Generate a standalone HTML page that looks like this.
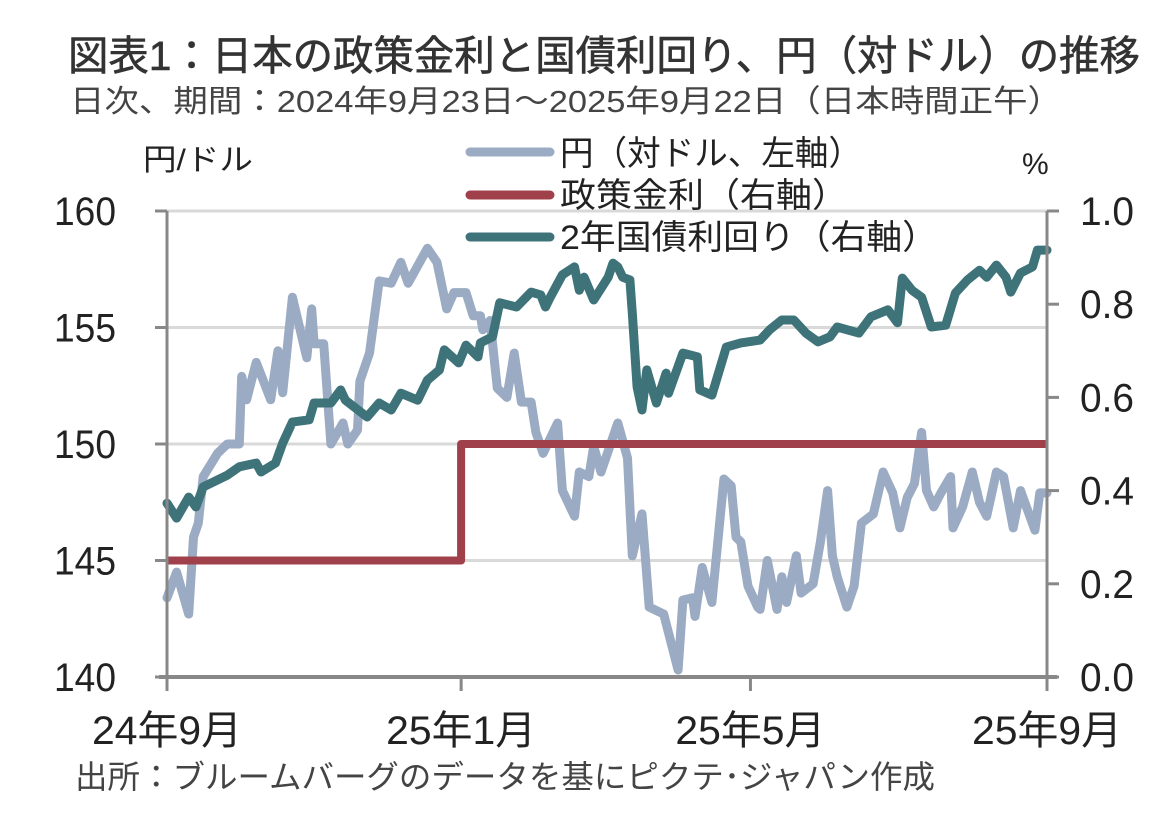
<!DOCTYPE html>
<html><head><meta charset="utf-8"><style>
body{margin:0;background:#fff;width:1176px;height:820px;overflow:hidden}
svg{display:block}
text{font-family:"Liberation Sans","Noto Sans CJK JP",sans-serif;fill:#222}
</style></head><body>
<svg id="chart" width="1176" height="820" viewBox="0 0 1176 820">
<text x="68" y="70" font-size="41" textLength="1072" lengthAdjust="spacingAndGlyphs" style="fill:#333;stroke:#333;stroke-width:0.6">図表1：日本の政策金利と国債利回り、円（対ドル）の推移</text>
<text x="70" y="112" font-size="31" textLength="992" lengthAdjust="spacingAndGlyphs" style="fill:#444">日次、期間：2024年9月23日～2025年9月22日（日本時間正午）</text>
<text x="143" y="170" font-size="30" textLength="110" lengthAdjust="spacingAndGlyphs">円/ドル</text>
<text x="1022" y="174" font-size="30">%</text>
<g id="grid"></g>
<g id="series"></g>
<g id="axes"></g>
<g>
<line x1="470" y1="152" x2="550" y2="152" stroke="#9aabc3" stroke-width="9" stroke-linecap="round"/>
<text x="560" y="165" font-size="34" textLength="302" lengthAdjust="spacingAndGlyphs">円（対ドル、左軸）</text>
<line x1="470" y1="195" x2="550" y2="195" stroke="#a0404a" stroke-width="9" stroke-linecap="round"/>
<text x="560" y="207" font-size="34" textLength="288" lengthAdjust="spacingAndGlyphs">政策金利（右軸）</text>
<line x1="470" y1="237" x2="550" y2="237" stroke="#3f737a" stroke-width="9" stroke-linecap="round"/>
<text x="560" y="249" font-size="34" textLength="378" lengthAdjust="spacingAndGlyphs">2年国債利回り（右軸）</text>
</g>
<text x="75" y="788" font-size="32" textLength="860" lengthAdjust="spacingAndGlyphs" style="fill:#444">出所：ブルームバーグのデータを基にピクテ･ジャパン作成</text>
</svg>
<script>
const xTickDays=[0,122,242,365];
const xTickLabels=["24年9月","25年1月","25年5月","25年9月"];
const leftTicks=[140,145,150,155,160];
const rightTickLabels=["0.0","0.2","0.4","0.6","0.8","1.0"];
const rightTicks=[0,0.2,0.4,0.6,0.8,1.0];
const yenDays=[0,4,9,11,13,15,21,25,30,31,33,37,43,46,48,52,58,60,61,65,68,73,75,79,80,84,88,93,97,100,108,112,116,119,124,127,130,131,134,137,141,144,147,151,153,156,162,164,169,171,175,177,180,187,191,193,197,200,206,212,214,218,219,222,226,231,234,236,238,241,245,246,249,253,255,257,261,263,268,271,274,276,278,282,285,288,293,297,301,304,307,310,313,315,318,321,325,326,330,334,337,340,344,347,351,354,360,362,365];
const yenValues=[143.4,144.5,142.7,146.0,146.6,148.6,149.6,150.0,150.0,152.9,151.9,153.5,151.9,154.0,152.2,156.3,153.7,155.8,154.3,154.3,150.0,150.9,150.0,150.6,152.7,153.9,157.0,156.9,157.8,156.9,158.4,157.8,155.8,156.5,156.5,155.5,155.5,154.9,155.3,152.4,152.0,153.9,151.8,151.8,150.5,149.6,150.9,148.0,146.9,148.8,148.6,149.9,148.8,150.9,149.4,145.2,147.0,143.0,142.7,140.3,143.3,143.4,142.6,144.7,143.2,148.5,148.2,146.0,145.8,143.9,143.0,142.9,145.0,142.9,144.3,143.2,145.2,143.6,144.0,145.8,148.0,145.2,144.3,143.0,143.9,146.6,147.0,148.8,147.9,146.4,147.7,148.3,150.5,148.0,147.3,147.9,148.6,146.4,147.3,148.8,147.5,146.9,148.8,148.6,146.4,148.0,146.3,147.9,147.9];
const jgbDays=[0,4,9,12,15,25,30,37,39,45,48,52,59,61,68,72,74,83,88,93,97,104,108,113,115,121,124,129,130,135,138,145,151,155,157,159,164,169,171,173,177,183,185,187,189,192,193,195,197,199,203,207,208,214,220,221,226,232,238,246,250,255,260,265,270,275,278,287,292,299,303,305,309,313,317,323,327,332,337,340,344,348,350,354,359,361,365];
const jgbValues=[0.373,0.341,0.386,0.365,0.408,0.433,0.451,0.459,0.440,0.459,0.502,0.547,0.552,0.588,0.588,0.616,0.594,0.558,0.588,0.573,0.609,0.594,0.637,0.659,0.702,0.674,0.712,0.687,0.717,0.730,0.803,0.794,0.826,0.820,0.794,0.815,0.863,0.880,0.830,0.858,0.809,0.858,0.888,0.880,0.858,0.852,0.781,0.622,0.573,0.659,0.588,0.652,0.609,0.695,0.687,0.616,0.605,0.708,0.717,0.723,0.745,0.766,0.766,0.738,0.719,0.730,0.751,0.738,0.773,0.788,0.760,0.856,0.830,0.815,0.751,0.755,0.824,0.852,0.873,0.858,0.884,0.858,0.826,0.867,0.880,0.916,0.916];
const policyDays=[0,122,122,365];
const policyValues=[0.25,0.25,0.5,0.5];

const X0=167,X1=1047,YT=211,YB=677;
const xs=d=>X0+(d/365)*(X1-X0);
const yL=v=>YB-(v-140)/20*(YB-YT);
const yR=v=>YB-v*(YB-YT);
const NS="http://www.w3.org/2000/svg";
function mk(tag,parent,attrs){const e=document.createElementNS(NS,tag);for(const k in attrs)e.setAttribute(k,attrs[k]);parent.appendChild(e);return e;}
const grid=document.getElementById('grid'),axes=document.getElementById('axes'),series=document.getElementById('series');
leftTicks.forEach((v,i)=>{
  if(v>140){const g=mk('line',grid,{x1:X0,x2:X1,y1:yL(v),y2:yL(v),stroke:'#d9d9d9','stroke-width':3});
  
  }
  const t=mk('line',axes,{x1:X0-12,x2:X0,y1:yL(v),y2:yL(v),stroke:'#888','stroke-width':3});
  
  
  const l=mk('text',axes,{x:54,y:yL(v)+14,'font-size':40,textLength:62,lengthAdjust:'spacingAndGlyphs'});
  
  
  l.textContent=v;
});
rightTicks.forEach((v,i)=>{
  const t=mk('line',axes,{x1:X1,x2:X1+12,y1:yR(v),y2:yR(v),stroke:'#888','stroke-width':3});
  
  
  const l=mk('text',axes,{x:1080,y:yR(v)+14,'font-size':40,textLength:54,lengthAdjust:'spacingAndGlyphs'});
  
  
  l.textContent=rightTickLabels[i];
});
xTickDays.forEach((d,i)=>{
  const t=mk('line',axes,{x1:xs(d),x2:xs(d),y1:YB,y2:YB+14,stroke:'#888','stroke-width':3});
  
  
  const l=mk('text',axes,{x:xs(d)-75,y:744,'font-size':40,textLength:150,lengthAdjust:'spacingAndGlyphs'});
  
  
  l.textContent=xTickLabels[i];
});
const la=mk('line',axes,{x1:X0,x2:X0,y1:YT,y2:YB,stroke:'#888','stroke-width':3});


const ra=mk('line',axes,{x1:X1,x2:X1,y1:YT,y2:YB,stroke:'#888','stroke-width':3});


const ba=mk('line',axes,{x1:X0-8,x2:X1+10,y1:YB,y2:YB,stroke:'#888','stroke-width':4});


function path(days,vals,yf){return days.map((d,i)=>(i?'L':'M')+xs(d).toFixed(1)+' '+yf(vals[i]).toFixed(1)).join(' ');}
const p1=mk('path',series,{d:path(yenDays,yenValues,yL),fill:'none',stroke:'#9aabc3','stroke-width':9,'stroke-linejoin':'round','stroke-linecap':'round'});


const p2=mk('path',series,{d:path(policyDays,policyValues,yR),fill:'none',stroke:'#a0404a','stroke-width':8,'stroke-linejoin':'round'});


const p3=mk('path',series,{d:path(jgbDays,jgbValues,yR),fill:'none',stroke:'#3f737a','stroke-width':9,'stroke-linejoin':'round','stroke-linecap':'round'});


</script>
</body></html>
